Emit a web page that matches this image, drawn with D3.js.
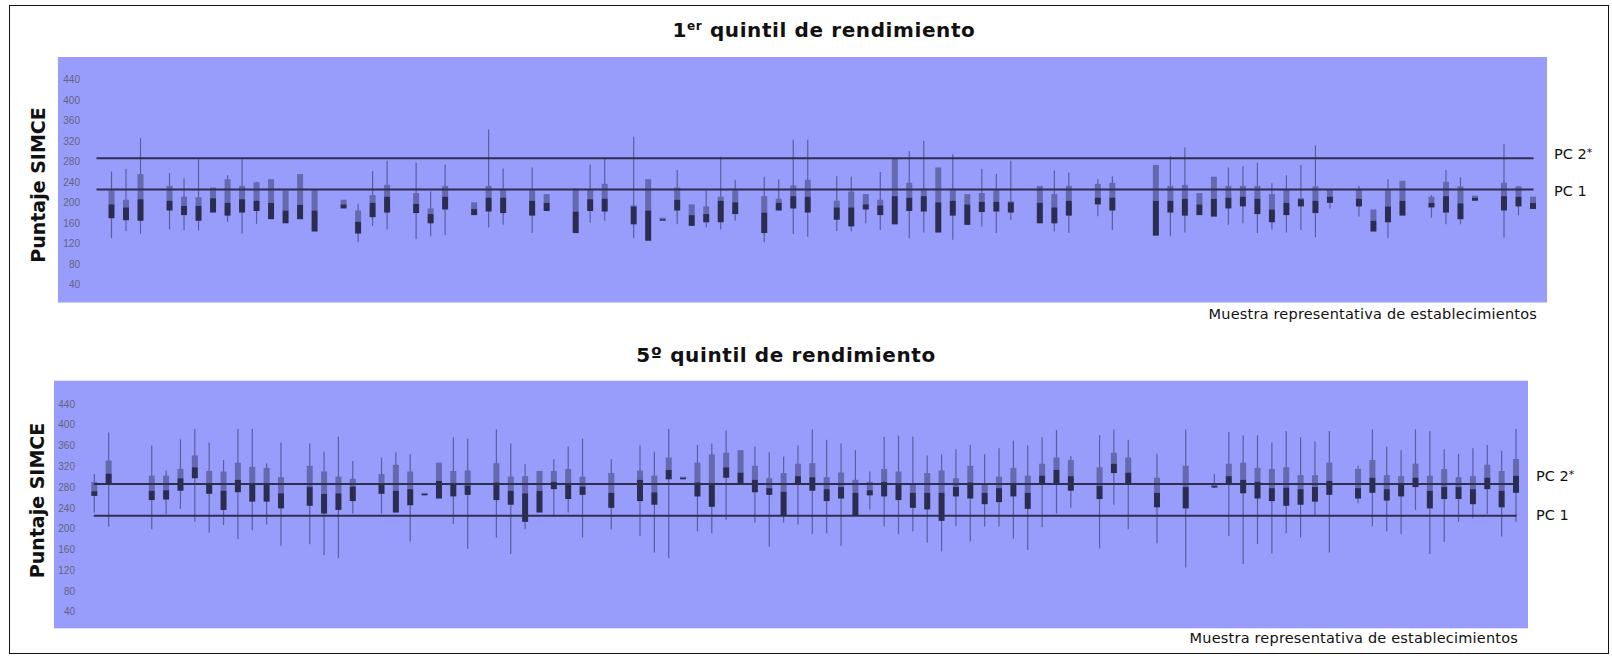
<!DOCTYPE html>
<html>
<head>
<meta charset="utf-8">
<script src="https://cdn.jsdelivr.net/npm/d3@7"></script>
<style>
  html, body { margin: 0; padding: 0; background: #ffffff; }
  svg { display: block; }
</style>
</head>
<body>
<svg id="chart" width="1612" height="656"></svg>
<script>
// Establecimientos de la muestra (1..100); null = sin datos en ese quintil
const establecimientos = d3.range(1, 101);
const yTicks = [40, 80, 120, 160, 200, 240, 280, 320, 360, 400, 440];
const cutNames = ["PC 1", "PC 2"];
const cutValues = [225, 286];

// 1er quintil de rendimiento: mínimo, P25, mediana, P75, máximo
const q1Min = [null,130,144,139,null,147,146,145,180,162,139,158,167,159,167,143,null,188,122,154,147,null,128,134,136,null,175,151,156,null,140,183,null,140,160,164,null,130,125,164,157,154,151,147,164,null,122,184,138,133,null,144,143,159,146,157,130,141,141,127,156,153,140,166,null,159,143,140,null,173,146,null,null,135,134,141,175,172,156,159,140,147,141,146,132,188,null,172,143,130,174,null,170,157,157,203,null,131,175,187];
const q1P25 = [null,169,165,164,null,184,175,164,180,174,180,183,167,159,167,143,null,188,139,171,180,null,179,159,186,null,175,182,179,null,174,183,null,140,183,182,null,157,125,164,184,154,161,161,177,null,140,184,188,180,null,166,153,186,175,157,183,182,141,174,156,181,182,180,null,159,159,174,null,196,184,null,null,135,180,174,175,172,188,192,177,161,175,192,179,199,null,192,143,161,174,null,190,180,167,203,null,184,192,187];
const q1Med = [null,196,190,206,null,203,193,193,208,199,206,203,199,184,195,184,null,196,162,199,211,null,197,177,211,null,187,209,209,null,203,199,null,182,206,207,null,192,184,167,205,175,177,203,200,null,180,199,212,211,null,190,190,196,194,212,209,212,200,203,196,201,201,200,null,199,190,203,null,209,209,null,null,203,203,207,196,207,209,211,207,186,199,206,203,211,null,207,164,192,203,null,199,212,198,209,null,212,211,199];
const q1P75 = [null,223,205,255,null,232,211,210,229,245,232,239,245,223,255,225,null,205,184,214,234,null,218,188,232,null,200,232,225,null,225,216,null,227,225,236,null,194,245,170,229,196,192,211,223,null,212,207,233,244,null,203,221,216,205,286,238,227,268,225,216,218,225,202,null,232,216,232,null,236,238,null,null,273,232,234,218,250,232,232,232,216,224,208,231,224,null,224,186,224,242,null,211,240,231,213,null,238,231,211];
const q1Max = [null,260,265,325,null,257,247,284,229,253,284,240,245,223,255,225,null,205,197,261,281,null,277,221,274,null,200,342,266,null,268,216,null,227,274,285,null,328,245,170,263,196,223,289,244,null,250,245,322,322,null,251,250,216,259,286,300,320,268,294,216,265,255,281,null,232,262,258,null,245,251,null,null,273,290,307,218,250,268,271,277,237,253,273,311,224,null,232,186,245,242,null,214,263,249,213,null,314,232,211];

// 5º quintil de rendimiento: mínimo, P25, mediana, P75, máximo
const q5Min = [231,204,null,null,199,228,238,213,192,207,180,197,208,167,null,170,149,143,229,null,229,231,175,265,258,209,161,null,183,151,199,231,223,231,183,null,199,null,186,154,143,295,195,191,217,286,212,165,212,208,189,191,167,225,237,204,189,195,173,156,205,175,204,204,181,159,203,229,240,null,162,246,199,null,172,null,125,null,278,186,132,170,152,191,183,225,154,null,249,204,195,189,236,151,174,213,220,228,185,213];
const q5P25 = [263,285,null,null,255,256,273,297,267,236,270,252,252,239,null,244,229,236,253,null,267,231,245,265,258,262,265,null,255,246,213,231,276,257,265,null,240,null,253,246,295,295,262,242,298,286,270,265,225,286,273,253,258,225,264,262,255,240,237,215,262,258,247,251,262,238,286,285,273,null,257,307,285,null,241,null,239,null,280,286,268,258,253,244,246,252,265,null,258,269,254,262,280,239,257,257,247,276,241,269];
const q5Med = [272,306,null,null,273,274,297,318,287,273,294,284,285,268,null,280,267,268,281,null,284,273,276,267,292,287,283,null,289,273,268,273,290,284,281,null,269,null,294,270,313,298,289,284,318,308,294,278,271,301,299,276,280,269,274,290,285,269,269,269,280,289,269,278,287,269,302,313,301,null,282,325,308,null,269,null,280,null,282,301,294,290,278,279,276,280,292,null,278,298,276,284,298,273,280,280,276,298,273,302];
const q5P75 = [290,331,null,null,302,302,315,341,311,310,327,319,317,299,null,321,310,300,296,null,305,323,310,269,327,311,312,null,326,300,301,311,311,315,300,null,307,null,312,302,337,300,327,343,346,351,321,297,307,325,326,299,308,294,290,315,310,287,307,312,297,321,285,300,317,302,325,337,332,null,318,346,337,null,298,null,321,null,285,325,327,317,315,318,303,303,327,null,315,332,303,301,325,302,315,299,301,323,311,334];
const q5Max = [305,385,null,null,360,312,372,392,366,332,392,392,326,366,null,364,348,377,330,null,337,347,343,269,327,376,373,null,391,364,324,311,334,358,373,null,334,null,360,348,392,300,361,364,389,351,358,347,339,360,391,371,364,351,310,377,379,377,341,343,353,361,343,355,369,360,376,390,340,null,380,391,371,null,344,null,391,null,305,386,380,380,366,388,376,368,388,null,321,391,358,351,391,388,353,344,355,361,350,392];

const COLORS = {
  plot: "#989dfb",
  whisker: "#5a5e9e",
  upper: "#6569ae",
  lower: "#2a2d4f",
  cut: "#2c2f50",
  tick: "#62647e",
  text: "#111111"
};

const panels = [
  {
    title: ["1", "er", " quintil de rendimiento"],
    series: [q1Min, q1P25, q1Med, q1P75, q1Max],
    plot: { x: 58, y: 57, w: 1489, h: 245.5 },
    yRange: [284.3, 79.3],
    xRange: [97, 1533],
    tickX: 80,
    titleX: 824, titleY: 37.3,
    yLabelX: 45, yLabelY: 185,
    footX: 1537, footY: 319,
    cutLabelX: 1554, cutLabelDy: [6.6, 0.9]
  },
  {
    title: ["5º", null, " quintil de rendimiento"],
    series: [q5Min, q5P25, q5Med, q5P75, q5Max],
    plot: { x: 54, y: 380.7, w: 1474, h: 247.6 },
    yRange: [611.7, 404],
    xRange: [94.3, 1516],
    tickX: 75,
    titleX: 786, titleY: 362.3,
    yLabelX: 44, yLabelY: 500.5,
    footX: 1518, footY: 643,
    cutLabelX: 1536, cutLabelDy: [4.1, -2.5]
  }
];

const svg = d3.select("#chart");

// outer frame
svg.append("rect")
  .attr("x", 9.5).attr("y", 5.5)
  .attr("width", 1599).attr("height", 648)
  .attr("fill", "none").attr("stroke", "#111").attr("stroke-width", 1);

const BOX_W = 6;

panels.forEach(p => {
  const g = svg.append("g");
  const x = d3.scalePoint().domain(establecimientos).range(p.xRange);
  const y = d3.scaleLinear().domain([40, 440]).range(p.yRange);

  // plot background
  g.append("rect")
    .attr("x", p.plot.x).attr("y", p.plot.y)
    .attr("width", p.plot.w).attr("height", p.plot.h)
    .attr("fill", COLORS.plot);

  // y axis (labels only, inside the plot area)
  const axis = d3.axisLeft(y).tickValues(yTicks).tickSize(0).tickPadding(0);
  const ag = g.append("g")
    .attr("transform", `translate(${p.tickX},0)`)
    .call(axis);
  ag.select(".domain").remove();
  ag.selectAll("text")
    .attr("fill", COLORS.tick)
    .attr("font-family", "'Liberation Sans', Arial, sans-serif")
    .attr("font-size", 10);

  const [mins, p25, meds, p75, maxs] = p.series;
  const rows = establecimientos
    .map((e, i) => ({ e, lo: mins[i], q1: p25[i], med: meds[i], q3: p75[i], hi: maxs[i] }))
    .filter(d => d.med !== null);

  const boxes = g.append("g").selectAll("g").data(rows).join("g");

  boxes.filter(d => d.hi > d.q3 || d.lo < d.q1)
    .append("line")
    .attr("x1", d => x(d.e)).attr("x2", d => x(d.e))
    .attr("y1", d => y(d.hi)).attr("y2", d => y(d.lo))
    .attr("stroke", COLORS.whisker).attr("stroke-width", 1.2);

  boxes.append("rect")
    .attr("x", d => x(d.e) - BOX_W / 2)
    .attr("width", BOX_W)
    .attr("y", d => y(d.q3))
    .attr("height", d => Math.max(0, y(d.med) - y(d.q3)))
    .attr("fill", COLORS.upper);

  boxes.append("rect")
    .attr("x", d => x(d.e) - BOX_W / 2)
    .attr("width", BOX_W)
    .attr("y", d => y(d.med))
    .attr("height", d => Math.max(1.5, y(d.q1) - y(d.med)))
    .attr("fill", COLORS.lower);

  // cut-off lines PC 1 / PC 2
  const [x0, x1] = p.xRange;
  cutValues.forEach((v, i) => {
    g.append("line")
      .attr("x1", x0 - 0.5).attr("x2", x1 + 0.5)
      .attr("y1", y(v)).attr("y2", y(v))
      .attr("stroke", COLORS.cut).attr("stroke-width", 2);
    const t = g.append("text")
      .attr("x", p.cutLabelX)
      .attr("y", y(v) + p.cutLabelDy[i])
      .attr("font-family", "'DejaVu Sans', Verdana, sans-serif")
      .attr("font-size", 14.5)
      .attr("fill", COLORS.text)
      .text(cutNames[i]);
    if (i === 1) {
      t.append("tspan").attr("font-size", 11).attr("dy", -3).text("*");
    }
  });

  // title
  const title = g.append("text")
    .attr("x", p.titleX).attr("y", p.titleY)
    .attr("text-anchor", "middle")
    .attr("font-family", "'DejaVu Sans', Verdana, sans-serif")
    .attr("font-weight", "bold")
    .attr("font-size", 20)
    .attr("letter-spacing", 0.6)
    .attr("fill", COLORS.text);
  title.append("tspan").text(p.title[0]);
  if (p.title[1]) {
    title.append("tspan").attr("font-size", 12).attr("dy", -7).text(p.title[1]);
    title.append("tspan").attr("dy", 7).text(p.title[2]);
  } else {
    title.append("tspan").text(p.title[2]);
  }

  // y axis title
  g.append("text")
    .attr("transform", `translate(${p.yLabelX},${p.yLabelY}) rotate(-90)`)
    .attr("text-anchor", "middle")
    .attr("font-family", "'DejaVu Sans', Verdana, sans-serif")
    .attr("font-weight", "bold")
    .attr("font-size", 19)
    .attr("fill", COLORS.text)
    .text("Puntaje SIMCE");

  // x axis caption
  g.append("text")
    .attr("x", p.footX).attr("y", p.footY)
    .attr("text-anchor", "end")
    .attr("font-family", "'DejaVu Sans', Verdana, sans-serif")
    .attr("font-size", 14.5)
    .attr("letter-spacing", 0.2)
    .attr("fill", COLORS.text)
    .text("Muestra representativa de establecimientos");
});
</script>
</body>
</html>
